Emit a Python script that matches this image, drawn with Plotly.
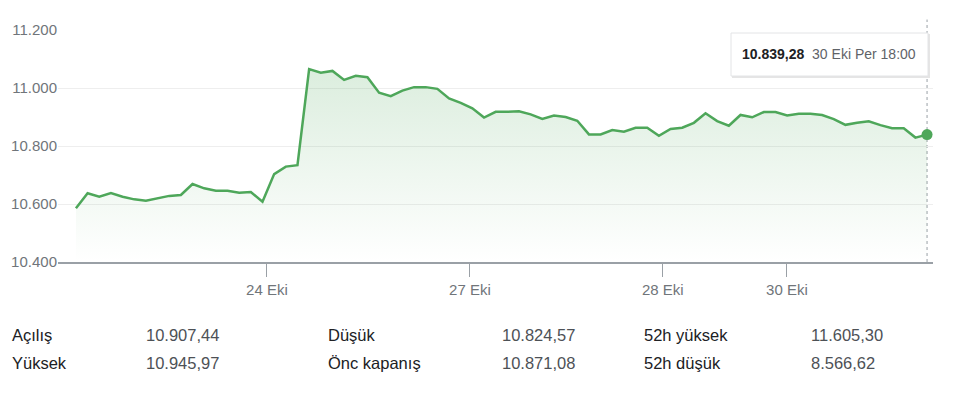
import plotly.graph_objects as go

# ---- data ----
prices = [
    10585, 10637, 10625, 10638, 10625, 10616, 10611, 10620, 10628, 10631,
    10669, 10654, 10646, 10646, 10639, 10641, 10608, 10703, 10729, 10734,
    11065, 11053, 11059, 11028, 11042, 11037, 10984, 10972, 10991, 11003,
    11003, 10997, 10964, 10949, 10930, 10898, 10918, 10918, 10920, 10909,
    10893, 10905, 10900, 10887, 10840, 10840, 10855, 10849, 10863, 10863,
    10835, 10859, 10863, 10880, 10913, 10886, 10870, 10907, 10899, 10917,
    10917, 10905, 10911, 10911, 10907, 10893, 10873, 10880, 10885, 10872,
    10861, 10861, 10829, 10839.28,
]
idx = list(range(len(prices)))

x_tick_pos = [16.38, 33.79, 50.34, 60.98]
x_tick_text = ["24 Eki", "27 Eki", "28 Eki", "30 Eki"]

y_tick_vals = [10400, 10600, 10800, 11000, 11200]
y_tick_text = ["10.400", "10.600", "10.800", "11.000", "11.200"]

tooltip_value = "10.839,28"
tooltip_time = "30 Eki Per 18:00"

stat_labels_1 = ["Açılış", "Yüksek"]
stat_values_1 = ["10.907,44", "10.945,97"]
stat_labels_2 = ["Düşük", "Önc kapanış"]
stat_values_2 = ["10.824,57", "10.871,08"]
stat_labels_3 = ["52h yüksek", "52h düşük"]
stat_values_3 = ["11.605,30", "8.566,62"]

# ---- layout geometry ----
W, H = 960, 393
ML, MR, MT, MB = 58, 27, 30, 131
PW, PH = W - ML - MR, H - MT - MB

def px(xp):
    return (xp - ML) / PW

def py(yp):
    return (H - MB - yp) / PH

GREEN = "#4ea75a"
FONT = "Liberation Sans, Arial, sans-serif"

fig = go.Figure()
fig.add_trace(go.Scatter(
    x=idx, y=prices, mode="lines",
    line=dict(color=GREEN, width=2.5),
    fill="tozeroy",
    fillgradient=dict(
        type="vertical",
        colorscale=[[0, "rgba(78,167,90,0)"], [1, "rgba(78,167,90,0.2)"]],
        start=10400, stop=max(prices),
    ),
    hoverinfo="skip",
))
fig.add_trace(go.Scatter(
    x=[idx[-1]], y=[prices[-1]], mode="markers",
    marker=dict(color=GREEN, size=11),
    hoverinfo="skip",
))

shapes = [
    dict(type="line", xref="x", yref="paper", x0=idx[-1], x1=idx[-1],
         y0=0, y1=1.045, line=dict(color="#9aa0a6", width=1, dash="dot"), layer="below"),
    # tooltip shadow + box
    dict(type="rect", xref="paper", yref="paper",
         x0=px(732), x1=px(930), y0=py(78), y1=py(34),
         fillcolor="rgba(0,0,0,0.10)", line=dict(width=0), layer="above"),
    dict(type="rect", xref="paper", yref="paper",
         x0=px(731), x1=px(928), y0=py(76), y1=py(33),
         fillcolor="white", line=dict(color="#e3e4e6", width=1), layer="above"),
]

annotations = [
    dict(xref="paper", yref="paper", x=px(740), y=py(54), xanchor="left", yanchor="middle",
         showarrow=False,
         text=f"<b>{tooltip_value}</b>&nbsp;&nbsp;<span style='color:#5f6368'>{tooltip_time}</span>",
         font=dict(family=FONT, size=14, color="#202124")),
]

rows_y = [335, 363]
cols = [(13, stat_labels_1, "#202124"), (147, stat_values_1, "#4d5156"),
        (329, stat_labels_2, "#202124"), (503, stat_values_2, "#4d5156"),
        (645, stat_labels_3, "#202124"), (812, stat_values_3, "#4d5156")]
for xpos, texts, col in cols:
    for yv, t in zip(rows_y, texts):
        annotations.append(dict(xref="paper", yref="paper", x=px(xpos - 3), y=py(yv),
                                xanchor="left", yanchor="middle", showarrow=False,
                                text=t, font=dict(family=FONT, size=16.5, color=col)))

fig.update_layout(
    width=W, height=H,
    margin=dict(l=ML, r=MR, t=MT, b=MB),
    paper_bgcolor="white", plot_bgcolor="white",
    showlegend=False,
    font=dict(family=FONT),
    shapes=shapes,
    annotations=annotations,
    xaxis=dict(
        range=[-1.54, len(prices) - 1 + 0.51],
        tickmode="array", tickvals=x_tick_pos, ticktext=x_tick_text,
        ticks="outside", ticklen=13, tickcolor="#9aa0a6", tickwidth=1,
        showgrid=False, zeroline=False,
        showline=True, linecolor="#9aa0a6", linewidth=1.5,
        tickfont=dict(family=FONT, size=15, color="#70757a"),
        fixedrange=True,
    ),
    yaxis=dict(
        range=[10400, 11200],
        tickmode="array", tickvals=y_tick_vals, ticktext=y_tick_text,
        ticks="", showgrid=True, gridcolor="#eeeeee", gridwidth=1,
        zeroline=False, showline=False,
        tickfont=dict(family=FONT, size=15, color="#70757a"),
        ticklabelstandoff=0,
        fixedrange=True,
    ),
)

fig.write_html("out.html")
